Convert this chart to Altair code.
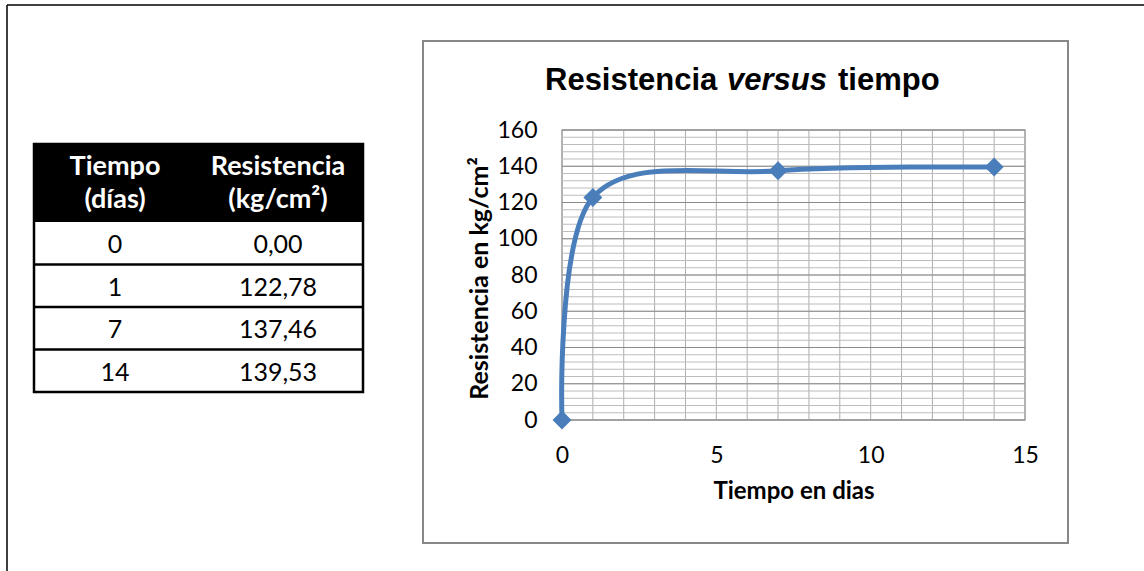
import altair as alt
import pandas as pd

# ---------------- data ----------------
dias = [0, 1, 7, 14]
resistencia = [0.00, 122.78, 137.46, 139.53]

x_label_values = [0, 5, 10, 15]
y_label_values = [0, 20, 40, 60, 80, 100, 120, 140, 160]
x_grid_values = list(range(0, 16))
y_minor_values = list(range(0, 161, 4))
y_major_values = list(range(0, 161, 20))

header_tiempo = ["Tiempo", "(días)"]
header_resistencia = ["Resistencia", "(kg/cm²)"]
chart_title = ["Resistencia", "versus", "tiempo"]
x_title = "Tiempo en dias"
y_title = "Resistencia en kg/cm²"

# ---------------- styles ----------------
BLUE = "#4A7EBB"
FONT = "Lato"
TITLE_FONT = "Liberation Sans"
W, H = 463, 290

df = pd.DataFrame({"dias": dias, "res": resistencia})
xs = alt.Scale(domain=[0, 15], nice=False, zero=False)
ys = alt.Scale(domain=[0, 160], nice=False)

x_axis = alt.Axis(values=x_label_values, title=x_title, grid=False, ticks=False, domain=False,
                  labelFont=FONT, labelFontSize=23, labelPadding=24, labelColor="black",
                  labelFlush=False, labelOverlap=False,
                  titleFont=FONT, titleFontSize=24, titleFontWeight="bold", titleColor="black",
                  titleX=W / 2, titleY=78, titleBaseline="alphabetic")
y_axis = alt.Axis(values=y_label_values, title=y_title, grid=False, ticks=False, domain=False,
                  labelFont=FONT, labelFontSize=23, labelPadding=25, labelColor="black",
                  labelOverlap=False,
                  titleFont=FONT, titleFontSize=25, titleFontWeight="bold", titleColor="black",
                  titleX=-75, titleY=H / 2 + 3, titleBaseline="alphabetic", titleAngle=270)


def one():
    return alt.Data(values=[{}])


layers = []

# chart panel border
layers.append(alt.Chart(one()).mark_rect(fillOpacity=0, stroke="#878787", strokeWidth=2).encode(
    x=alt.value(-139), x2=alt.value(506), y=alt.value(-89), y2=alt.value(413)))
# outer frame (top and left)
layers.append(alt.Chart(one()).mark_rule(color="black", strokeWidth=1.5).encode(
    x=alt.value(-555), x2=alt.value(582), y=alt.value(-125)))
layers.append(alt.Chart(one()).mark_rule(color="black", strokeWidth=1.5).encode(
    x=alt.value(-555), y=alt.value(-125), y2=alt.value(441)))

# grid
layers.append(alt.Chart(pd.DataFrame({"v": x_grid_values})).mark_rule(color="#adadad", strokeWidth=1).encode(
    x=alt.X("v:Q", scale=xs, axis=x_axis)))
layers.append(alt.Chart(pd.DataFrame({"v": y_minor_values})).mark_rule(color="#bcbcbc", strokeWidth=1).encode(
    y=alt.Y("v:Q", scale=ys, axis=y_axis)))
layers.append(alt.Chart(pd.DataFrame({"v": y_major_values})).mark_rule(color="#8a8a8a", strokeWidth=1).encode(
    y=alt.Y("v:Q", scale=ys, axis=y_axis)))

# series
layers.append(alt.Chart(df).mark_line(interpolate="cardinal", color=BLUE, strokeWidth=5).encode(
    x=alt.X("dias:Q", scale=xs, axis=x_axis),
    y=alt.Y("res:Q", scale=ys, axis=y_axis)))
layers.append(alt.Chart(df).mark_point(shape="diamond", filled=True, size=360, color=BLUE, opacity=1).encode(
    x=alt.X("dias:Q", scale=xs, axis=x_axis),
    y=alt.Y("res:Q", scale=ys, axis=y_axis)))

# chart title: mixed styles
title_x = [-17, 165, 276]
title_style = ["normal", "italic", "normal"]
for t, tx, st in zip(chart_title, title_x, title_style):
    layers.append(alt.Chart(one()).mark_text(
        text=t, font=TITLE_FONT, fontSize=31, fontWeight="bold", fontStyle=st, color="black",
        align="left", baseline="alphabetic").encode(x=alt.value(tx), y=alt.value(-40)))

# table
TL, TR, TT, HB = -528, -199, 14, 92
ROW_H = 42.5
C1, C2 = -447, -284
n_rows = len(dias)
TB = HB + ROW_H * n_rows

layers.append(alt.Chart(one()).mark_rect(color="black").encode(
    x=alt.value(TL), x2=alt.value(TR), y=alt.value(TT), y2=alt.value(HB)))
layers.append(alt.Chart(one()).mark_rect(fillOpacity=0, stroke="black", strokeWidth=2.5).encode(
    x=alt.value(TL), x2=alt.value(TR), y=alt.value(TT), y2=alt.value(TB)))
for i in range(1, n_rows):
    layers.append(alt.Chart(one()).mark_rule(color="black", strokeWidth=2.5).encode(
        x=alt.value(TL), x2=alt.value(TR), y=alt.value(HB + ROW_H * i)))

for j, (a, b) in enumerate(zip(header_tiempo, header_resistencia)):
    yy = 37 + 33 * j
    for t, cx in ((a, C1), (b, C2)):
        layers.append(alt.Chart(one()).mark_text(
            text=t, font=FONT, fontSize=27, fontWeight="bold", color="white",
            align="center", baseline="middle").encode(x=alt.value(cx), y=alt.value(yy)))

tab = pd.DataFrame({
    "row": list(range(n_rows)),
    "dias_txt": [str(d) for d in dias],
    "res_txt": [f"{v:.2f}".replace(".", ",") for v in resistencia],
})
for i in range(n_rows):
    yy = HB + ROW_H * i + ROW_H / 2 + 2
    for field, cx in (("dias_txt", C1), ("res_txt", C2)):
        layers.append(alt.Chart(tab).transform_filter(f"datum.row == {i}").mark_text(
            font=FONT, fontSize=25, color="black", align="center", baseline="middle").encode(
            text=alt.Text(f"{field}:N"), x=alt.value(cx), y=alt.value(yy)))

chart = alt.layer(*layers).properties(
    width=W, height=H,
    autosize=alt.AutoSizeParams(type="none"),
    padding={"left": 562, "top": 130, "right": 119, "bottom": 151},
    background="white",
).configure_view(stroke="#a0a0a0", strokeWidth=1.5)

chart.save("out.html", embed_options={"renderer": "svg", "actions": False})
